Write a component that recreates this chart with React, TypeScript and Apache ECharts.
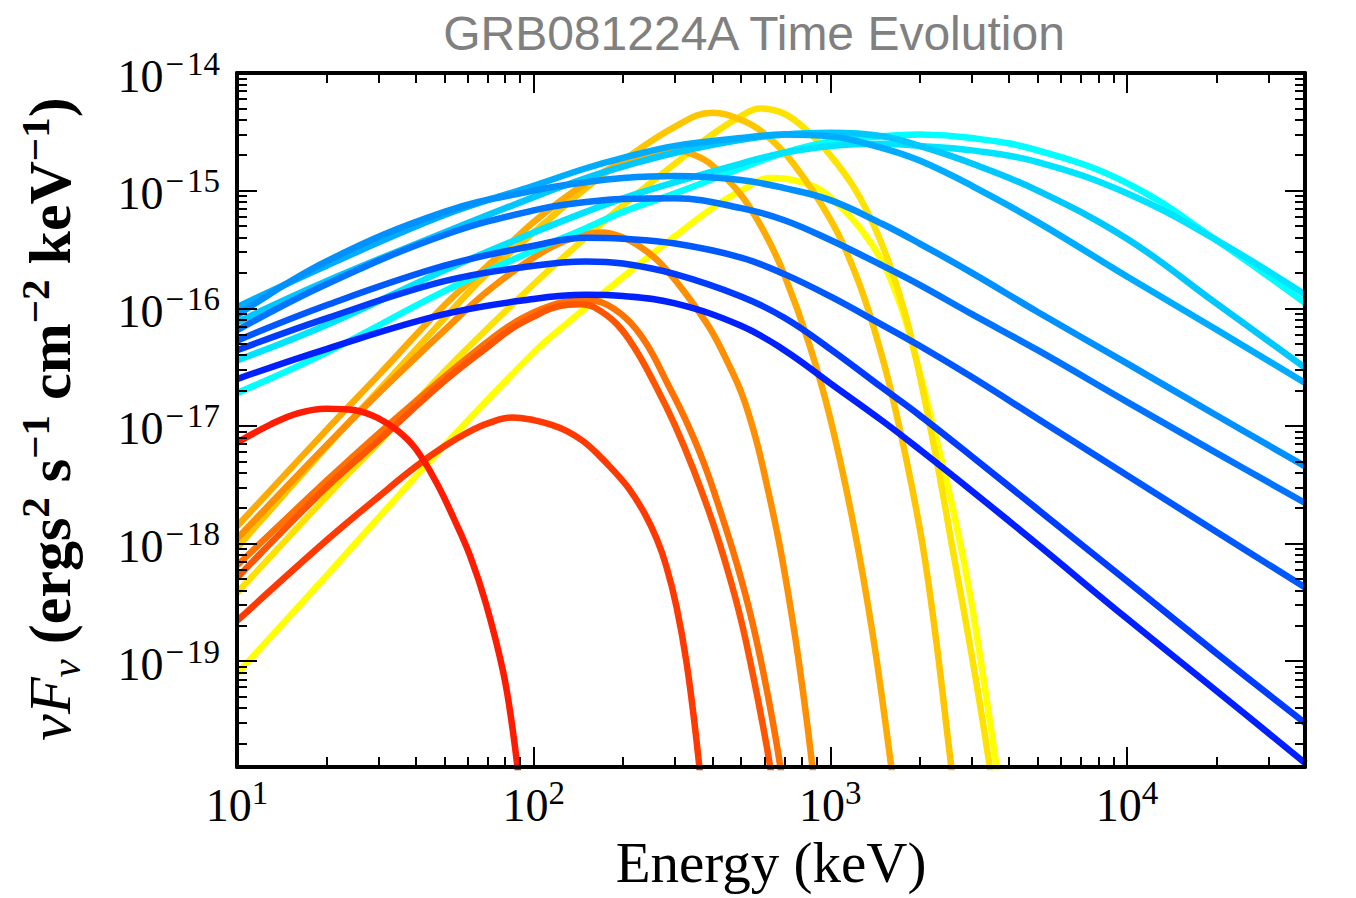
import React, { useEffect, useRef } from 'react';
import * as echarts from 'echarts';

// ---------- data (energies in keV, nuFnu in erg^2 s^-1 cm^-2 keV^-1) ----------
const energyBlue = [10, 20, 50, 100, 150, 200, 300, 500, 700, 1000, 1500, 2000, 3000, 5000, 10000, 20000, 40000];

const fluxB9 = [2.5e-17, 4.5e-17, 8.9e-17, 1.2e-16, 1.3e-16, 1.27e-16, 1.1e-16, 7.1e-17, 4.4e-17, 2.3e-17, 1.1e-17, 6.3e-18, 2.8e-18, 9.8e-19, 2.3e-19, 5.6e-20, 1.35e-20];
const fluxB8 = [4.4e-17, 8.2e-17, 1.7e-16, 2.3e-16, 2.5e-16, 2.4e-16, 1.95e-16, 1.26e-16, 8.3e-17, 4.5e-17, 2.1e-17, 1.23e-17, 5.5e-18, 1.95e-18, 4.8e-19, 1.17e-19, 2.95e-20];
const fluxB7 = [5.3e-17, 1.06e-16, 2.3e-16, 3.4e-16, 3.98e-16, 3.9e-16, 3.55e-16, 2.7e-16, 1.95e-16, 1.26e-16, 7.2e-17, 4.8e-17, 2.6e-17, 1.15e-17, 3.8e-18, 1.26e-18, 4.2e-19];
const fluxB6 = [6.5e-17, 1.6e-16, 4.2e-16, 6.8e-16, 8.0e-16, 8.5e-16, 8.6e-16, 7.1e-16, 5.6e-16, 3.8e-16, 2.3e-16, 1.58e-16, 8.9e-17, 4.4e-17, 1.6e-17, 5.9e-18, 2.2e-18];
const fluxB5 = [8.7e-17, 2.5e-16, 6.6e-16, 1.0e-15, 1.18e-15, 1.28e-15, 1.33e-15, 1.23e-15, 1.05e-15, 8.3e-16, 5.2e-16, 3.55e-16, 2.0e-16, 9.3e-17, 3.4e-17, 1.23e-17, 4.5e-18];
const fluxB4 = [1.02e-16, 2.3e-16, 6.2e-16, 1.1e-15, 1.55e-15, 1.9e-15, 2.4e-15, 2.8e-15, 3.0e-15, 2.9e-15, 2.3e-15, 1.8e-15, 1.1e-15, 5.4e-16, 1.86e-16, 6.6e-17, 2.3e-17];
const fluxB3 = [7.6e-17, 1.7e-16, 4.4e-16, 8.8e-16, 1.28e-15, 1.6e-15, 2.1e-15, 2.7e-15, 3.0e-15, 3.1e-15, 2.9e-15, 2.4e-15, 1.7e-15, 1.0e-15, 3.9e-16, 1.1e-16, 3.1e-17];
const fluxB2 = [3.6e-17, 7.2e-17, 2.1e-16, 4.4e-16, 6.6e-16, 8.6e-16, 1.18e-15, 1.7e-15, 2.1e-15, 2.4e-15, 2.5e-15, 2.4e-15, 2.2e-15, 1.75e-15, 9.5e-16, 3.8e-16, 1.3e-16];
const fluxB1 = [1.9e-17, 4.2e-17, 1.4e-16, 3.1e-16, 4.8e-16, 6.6e-16, 9.5e-16, 1.55e-15, 2.1e-15, 2.6e-15, 2.9e-15, 3.0e-15, 2.8e-15, 2.2e-15, 1.16e-15, 3.8e-16, 1.1e-16];

const energyR9 = [10, 20, 30, 50, 100, 130, 200, 300, 400, 500, 632, 800, 1000, 1400, 1700, 1930, 2200, 2600, 3000, 3640, 3900];
const fluxR9 = [7.8e-20, 5.3e-19, 1.66e-18, 6.8e-18, 4.2e-17, 7.5e-17, 1.84e-16, 4.1e-16, 7.1e-16, 1.0e-15, 1.28e-15, 1.18e-15, 8.8e-16, 3.3e-16, 1.17e-16, 4.0e-17, 1.1e-17, 1.9e-18, 3.0e-19, 1.24e-20, 3.6e-21];

const energyR8 = [10, 20, 30, 50, 100, 150, 200, 300, 400, 500, 577, 700, 850, 1000, 1200, 1400, 1600, 1800, 2000, 2300, 2600, 3000, 3450, 3700];
const fluxR8 = [3.8e-19, 2.5e-18, 7.2e-18, 2.9e-17, 1.6e-16, 4.0e-16, 7.5e-16, 1.7e-15, 3.0e-15, 4.3e-15, 5.0e-15, 4.5e-15, 3.1e-15, 2.0e-15, 1.07e-15, 5.1e-16, 2.2e-16, 8.4e-17, 2.7e-17, 4.6e-18, 8.2e-19, 1.1e-19, 1.24e-20, 3.0e-21];

const energyR7 = [10, 20, 30, 50, 70, 100, 150, 200, 300, 400, 500, 600, 750, 1000, 1200, 1400, 1650, 2000, 2250, 2510, 2700];
const fluxR7 = [9.2e-19, 6.6e-18, 2.0e-17, 8.2e-17, 2.0e-16, 4.4e-16, 1.05e-15, 1.8e-15, 3.5e-15, 4.6e-15, 4.0e-15, 3.04e-15, 1.7e-15, 5.7e-16, 2.13e-16, 6.9e-17, 1.45e-17, 1.36e-18, 1.84e-19, 1.86e-20, 4.0e-21];

const energyR6 = [10, 20, 30, 50, 70, 100, 150, 200, 250, 300, 350, 400, 500, 600, 700, 850, 1000, 1200, 1400, 1580, 1700];
const fluxR6 = [1.4e-18, 9.2e-18, 2.7e-17, 1.06e-16, 2.3e-16, 5.4e-16, 1.16e-15, 1.75e-15, 2.1e-15, 2.2e-15, 2.0e-15, 1.64e-15, 9.2e-16, 4.4e-16, 1.92e-16, 4.9e-17, 1.15e-17, 1.4e-18, 1.5e-19, 1.7e-20, 4.0e-21];

const energyR5 = [10, 20, 30, 50, 70, 100, 130, 170, 200, 230, 266, 320, 392, 450, 506, 560, 610, 680, 760, 830, 883];
const fluxR5 = [1.1e-18, 6.8e-18, 1.9e-17, 6.5e-17, 1.4e-16, 2.7e-16, 3.8e-16, 4.4e-16, 4.0e-16, 3.3e-16, 2.45e-16, 1.41e-16, 6.8e-17, 3.5e-17, 1.8e-17, 7.9e-18, 3.2e-18, 8.7e-19, 1.64e-19, 3.35e-20, 9.1e-21];

const energyR4 = [10, 20, 30, 50, 70, 85, 100, 115, 130, 150, 170, 205, 240, 280, 325, 375, 430, 485, 540, 595, 660, 700];
const fluxR4 = [6.5e-19, 3.4e-18, 8.6e-18, 2.6e-17, 5.2e-17, 7.4e-17, 9.2e-17, 1.06e-16, 1.14e-16, 1.17e-16, 1.12e-16, 8.2e-17, 5.0e-17, 2.4e-17, 1.13e-17, 4.8e-18, 1.75e-18, 6.6e-19, 2.4e-19, 7.9e-20, 1.95e-20, 7.0e-21];

const energyR3 = [10, 20, 30, 50, 70, 85, 100, 115, 130, 145, 160, 190, 220, 260, 300, 345, 400, 450, 500, 550, 610, 650];
const fluxR3 = [5.1e-19, 3.0e-18, 7.5e-18, 2.4e-17, 4.7e-17, 6.8e-17, 8.5e-17, 1.0e-16, 1.07e-16, 1.08e-16, 1.02e-16, 7.4e-17, 4.5e-17, 2.1e-17, 1.0e-17, 4.3e-18, 1.55e-18, 6.0e-19, 2.24e-19, 7.4e-20, 1.9e-20, 6.9e-21];

const energyR2 = [10, 20, 30, 40, 50, 60, 70, 85, 100, 115, 130, 147, 165, 187, 210, 236, 260, 280, 303, 328, 354, 382];
const fluxR2 = [2.2e-19, 1.06e-18, 2.5e-18, 4.5e-18, 6.7e-18, 8.8e-18, 1.05e-17, 1.18e-17, 1.12e-17, 1.02e-17, 9.0e-18, 7.4e-18, 5.7e-18, 4.1e-18, 2.9e-18, 1.82e-18, 1.09e-18, 6.4e-19, 2.9e-19, 9.5e-20, 2.1e-20, 3.2e-21];

const energyR1 = [10, 13, 16, 20, 25, 30, 35, 40, 47, 54, 61, 69, 79, 85, 90];
const fluxR1 = [7.2e-18, 1.03e-17, 1.28e-17, 1.4e-17, 1.36e-17, 1.16e-17, 9.0e-18, 6.4e-18, 3.3e-18, 1.6e-18, 7.9e-19, 3.1e-19, 8.0e-20, 2.6e-20, 7.9e-21];

const majorXExp = [1, 2, 3, 4];
const majorYExp = [-19, -18, -17, -16, -15, -14];
const minorMultipliers = [2, 3, 4, 5, 6, 7, 8, 9];

const titleText = 'GRB081224A Time Evolution';
const xAxisTitle = 'Energy (keV)';

// ---------- styling / layout ----------
const SERIF = '"Liberation Serif", "DejaVu Serif", serif';
const SANS = '"Liberation Sans", Arial, sans-serif';
const X_MIN = 1;
const X_MAX = 4.6;
const Y_MIN = -19.9;
const Y_MAX = -14;

// drawn in this order: warm spectra first, blue spectra on top
const curves = [
  { name: 'R9', color: '#ffff00', e: energyR9, f: fluxR9 },
  { name: 'R8', color: '#ffe300', e: energyR8, f: fluxR8 },
  { name: 'R7', color: '#ffc600', e: energyR7, f: fluxR7 },
  { name: 'R6', color: '#ffaa00', e: energyR6, f: fluxR6 },
  { name: 'R5', color: '#ff8e00', e: energyR5, f: fluxR5 },
  { name: 'R4', color: '#ff7100', e: energyR4, f: fluxR4 },
  { name: 'R3', color: '#ff5500', e: energyR3, f: fluxR3 },
  { name: 'R2', color: '#ff3900', e: energyR2, f: fluxR2 },
  { name: 'R1', color: '#ff1c00', e: energyR1, f: fluxR1 },
  { name: 'B1', color: '#00ffff', e: energyBlue, f: fluxB1 },
  { name: 'B2', color: '#00e4ff', e: energyBlue, f: fluxB2 },
  { name: 'B3', color: '#00c8ff', e: energyBlue, f: fluxB3 },
  { name: 'B4', color: '#00acff', e: energyBlue, f: fluxB4 },
  { name: 'B5', color: '#0090ff', e: energyBlue, f: fluxB5 },
  { name: 'B6', color: '#0074ff', e: energyBlue, f: fluxB6 },
  { name: 'B7', color: '#0058ff', e: energyBlue, f: fluxB7 },
  { name: 'B8', color: '#003cff', e: energyBlue, f: fluxB8 },
  { name: 'B9', color: '#0020ff', e: energyBlue, f: fluxB9 },
];

function minorTicks(fromExp: number, toExp: number, lo: number, hi: number) {
  const out: number[] = [];
  for (let d = fromExp; d <= toExp; d++) {
    for (const k of minorMultipliers) {
      const v = d + Math.log10(k);
      if (v > lo && v < hi) out.push(v);
    }
  }
  return out;
}

const tickRich = {
  b: { fontFamily: SERIF, fontSize: 46, lineHeight: 52, verticalAlign: 'bottom', color: '#000' },
  m: { fontFamily: SERIF, fontSize: 33, lineHeight: 34, verticalAlign: 'top', color: '#000', padding: [0, 3, 0, 2] },
  s: { fontFamily: SERIF, fontSize: 33, lineHeight: 34, verticalAlign: 'top', color: '#000' },
};

const tickFormatter = (v: number) => {
  const n = Math.round(v);
  return n < 0 ? `{b|10}{m|\u2212}{s|${Math.abs(n)}}` : `{b|10}{s|${n}}`;
};

function axisCommon(min: number, max: number, position: string, ticks: number[], len: number, showLine: boolean, label: any) {
  return {
    type: 'value',
    position,
    min,
    max,
    z: 10,
    axisLine: { show: showLine, onZero: false, lineStyle: { color: '#000', width: 4 } },
    axisTick: { show: true, inside: true, length: len, customValues: ticks, lineStyle: { color: '#000', width: 2 } },
    axisLabel: label,
    splitLine: { show: false },
    minorTick: { show: false },
  };
}

function buildOption() {
  const minorX = minorTicks(1, 4, X_MIN, X_MAX);
  const minorY = minorTicks(-20, -15, Y_MIN, Y_MAX);
  const xLabel = {
    show: true,
    customValues: majorXExp,
    margin: 9,
    formatter: tickFormatter,
    rich: tickRich,
    color: '#000',
  };
  const yLabel = {
    show: true,
    customValues: majorYExp,
    margin: 17,
    formatter: tickFormatter,
    rich: tickRich,
    color: '#000',
  };
  const noLabel = { show: false };

  const yNameText =
    '{i|\u03bdF}{sub|\u03bd}{b| (ergs}{sup|2}{b| s}{sup|\u22121}{b| cm}{sup|\u22122}{b| keV}{sup|\u22121}{b|)}';

  return {
    animation: false,
    backgroundColor: '#fff',
    grid: { left: 237, right: 51, top: 73, bottom: 131, containLabel: false },
    xAxis: [
      axisCommon(X_MIN, X_MAX, 'bottom', majorXExp, 20, true, xLabel),
      axisCommon(X_MIN, X_MAX, 'bottom', minorX, 10, false, noLabel),
      axisCommon(X_MIN, X_MAX, 'top', majorXExp, 20, true, noLabel),
      axisCommon(X_MIN, X_MAX, 'top', minorX, 10, false, noLabel),
    ],
    yAxis: [
      axisCommon(Y_MIN, Y_MAX, 'left', majorYExp, 20, true, yLabel),
      axisCommon(Y_MIN, Y_MAX, 'left', minorY, 10, false, noLabel),
      axisCommon(Y_MIN, Y_MAX, 'right', majorYExp, 20, true, noLabel),
      axisCommon(Y_MIN, Y_MAX, 'right', minorY, 10, false, noLabel),
    ],
    series: curves.map((c) => ({
      name: c.name,
      type: 'line',
      xAxisIndex: 0,
      yAxisIndex: 0,
      data: c.e.map((e, i) => [Math.log10(e), Math.log10(c.f[i])]),
      showSymbol: false,
      symbol: 'none',
      smooth: 0.4,
      clip: true,
      silent: true,
      lineStyle: { color: c.color, width: 6.5 },
      z: 2,
    })),
    graphic: [
      {
        type: 'text',
        x: 754,
        y: 33,
        style: {
          text: titleText,
          fill: '#808080',
          font: `48px ${SANS}`,
          align: 'center',
          verticalAlign: 'middle',
          textAlign: 'center',
          textVerticalAlign: 'middle',
        },
      },
      {
        type: 'text',
        x: 771,
        y: 862,
        style: {
          text: xAxisTitle,
          fill: '#000',
          font: `57px ${SERIF}`,
          align: 'center',
          verticalAlign: 'middle',
          textAlign: 'center',
          textVerticalAlign: 'middle',
        },
      },
      {
        type: 'text',
        x: 50,
        y: 419,
        rotation: Math.PI / 2,
        style: {
          text: yNameText,
          fill: '#000',
          align: 'center',
          verticalAlign: 'middle',
          textAlign: 'center',
          textVerticalAlign: 'middle',
          rich: {
            i: { fontFamily: SERIF, fontStyle: 'italic', fontSize: 60, lineHeight: 72, verticalAlign: 'middle', fill: '#000' },
            sub: { fontFamily: SERIF, fontStyle: 'italic', fontSize: 41, lineHeight: 41, verticalAlign: 'bottom', fill: '#000' },
            b: { fontFamily: SERIF, fontWeight: 'bold', fontSize: 60, lineHeight: 72, verticalAlign: 'middle', fill: '#000' },
            sup: { fontFamily: SERIF, fontWeight: 'bold', fontSize: 41, lineHeight: 41, verticalAlign: 'top', fill: '#000' },
          },
        },
      },
    ],
  };
}

export default function App() {
  const ref = useRef<HTMLDivElement>(null);
  useEffect(() => {
    if (!ref.current) return;
    const chart = echarts.init(ref.current, undefined, { renderer: 'svg' });
    chart.setOption(buildOption() as any);
    return () => chart.dispose();
  }, []);
  return (
    <div
      ref={ref}
      style={{ position: 'absolute', left: 0, top: 0, width: 1356, height: 898, background: '#fff' }}
    />
  );
}
